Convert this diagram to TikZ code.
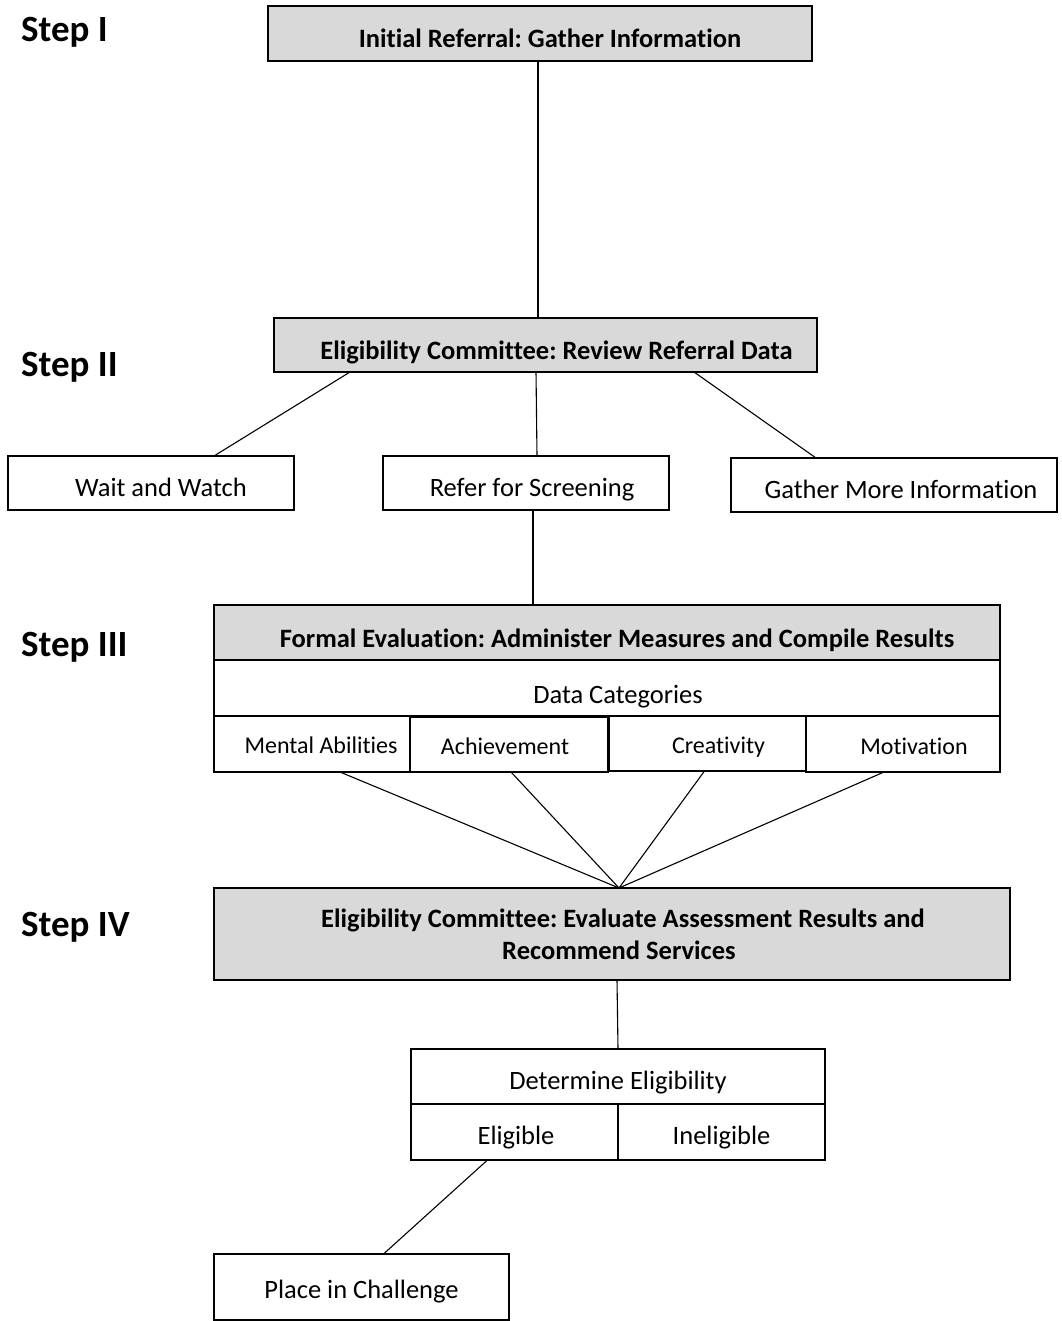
\documentclass[tikz,border=0pt]{standalone}
\usepackage{fontspec}
\setmainfont{Carlito}[Ligatures=NoCommon]
\definecolor{boxgray}{HTML}{D9D9D9}
\newcommand\shifted[2]{\hspace*{#1pt}#2}
\begin{document}
\frenchspacing
\begin{tikzpicture}[x=1pt,y=-1pt,
  box/.style={draw=black,line width=1.1pt,inner sep=0pt,outer sep=0pt,font=\fontsize{26.5}{32}\selectfont,fill=white,text depth=0pt},
  smallbox/.style={box,font=\fontsize{24}{29}\selectfont},
  graybox/.style={box,fill=boxgray,font=\fontsize{26.5}{32}\selectfont\bfseries},
  steplabel/.style={anchor=west,inner sep=0pt,font=\fontsize{37}{42}\selectfont\bfseries,text height=23.4pt,text depth=0pt},
  conn/.style={line width=1.1pt}]
\useasboundingbox (0,0) rectangle (1061,1321);
% Step labels
\node[steplabel] (l1) at (21,29.5) {Step I};
\node[steplabel] (l2) at (21,364.5) {Step II};
\node[steplabel] (l3) at (21,644.5) {Step III};
\node[steplabel] (l4) at (21,925) {Step IV};
% Boxes
\node[graybox,minimum width=544pt,minimum height=55pt,text height=29pt] (b1) at (540,33.5) {\shifted{20}{Initial Referral: Gather Information}};
\node[graybox,minimum width=543pt,minimum height=54pt,text height=29pt] (b2) at (545.5,345) {\shifted{22}{Eligibility Committee: Review Referral Data}};
\node[box,minimum width=286pt,minimum height=54pt,text height=26pt] (w) at (151,483) {\shifted{20}{Wait and Watch}};
\node[box,minimum width=286pt,minimum height=54pt,text height=27pt] (r) at (526,483) {\shifted{12}{Refer for Screening}};
\node[box,minimum width=326pt,minimum height=54pt,text height=27pt] (g) at (894,485) {\shifted{14}{Gather More Information}};
\node[graybox,minimum width=786pt,minimum height=55pt,text height=29pt] (fe) at (607,632.5) {\shifted{20}{Formal Evaluation: Administer Measures and Compile Results}};
\node[box,minimum width=786pt,minimum height=56pt,text height=31pt] (dc) at (607,688) {\shifted{22}{Data Categories}};
\node[smallbox,minimum width=196pt,minimum height=56pt,text height=18.5pt] (ma) at (312,744) {\shifted{18}{Mental Abilities}};
\node[smallbox,minimum width=198pt,minimum height=55pt,text height=19.5pt] (ac) at (509,744.5) {Achievement\hspace*{8pt}};
\node[smallbox,minimum width=197pt,minimum height=55pt,text height=19.5pt] (cr) at (707.5,743.5) {\shifted{22}{Creativity}};
\node[smallbox,minimum width=194pt,minimum height=56pt,text height=20.5pt] (mo) at (903,744) {\shifted{22}{Motivation}};
\node[graybox,minimum width=796pt,minimum height=92pt,align=center,text depth=] (s4) at (612,934) {\shifted{22}{Eligibility Committee: Evaluate Assessment Results and}\\\shifted{14}{Recommend Services}};
\node[box,minimum width=414pt,minimum height=55pt,text height=25pt] (de) at (618,1076.5) {Determine Eligibility};
\node[box,minimum width=207pt,minimum height=56pt,text height=24pt] (el) at (514.5,1132) {\shifted{3}{Eligible}};
\node[box,minimum width=207pt,minimum height=56pt,text height=24pt] (ie) at (721.5,1132) {Ineligible};
\node[box,minimum width=295pt,minimum height=66pt,text height=23pt] (pc) at (361.5,1287) {Place in Challenge};
% Connectors
\coordinate (conv) at ([xshift=7pt]s4.north);
\draw[conn] ([xshift=-2pt]b1.south) -- ([xshift=-7.5pt]b2.north);
\draw[conn] ([xshift=76pt]b2.south west) -- ([xshift=206pt]w.north west);
\draw[conn] ([xshift=-9.5pt]b2.south) -- ([xshift=11pt]r.north);
\draw[conn] ([xshift=-123pt]b2.south east) -- ([xshift=85pt]g.north west);
\draw[conn] ([xshift=7pt]r.south) -- ([xshift=-74pt]fe.north);
\draw[conn] ([xshift=28pt]ma.south) -- (conv);
\draw[conn] ([xshift=2pt]ac.south) -- (conv);
\draw[conn] ([xshift=-3pt]cr.south) -- (conv);
\draw[conn] ([xshift=-19pt]mo.south) -- (conv);
\draw[conn] ([xshift=5pt]s4.south) -- (de.north);
\draw[conn] ([xshift=-27pt]el.south) -- ([xshift=22pt]pc.north);
\end{tikzpicture}
\end{document}
